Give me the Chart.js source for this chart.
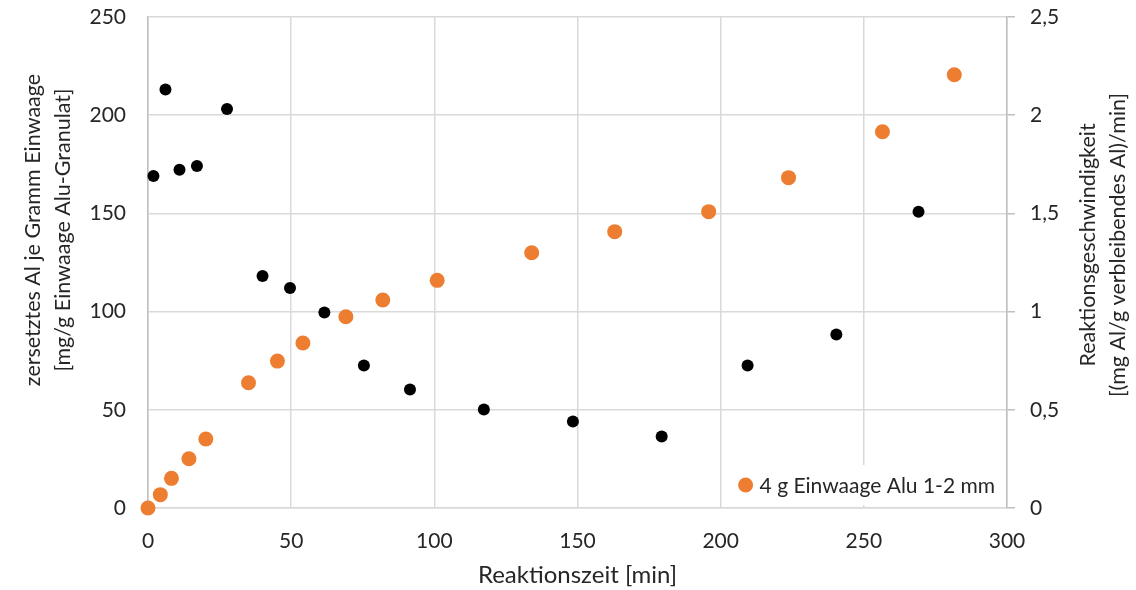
<!DOCTYPE html>
<html>
<head>
<meta charset="utf-8">
<script src="https://cdn.jsdelivr.net/npm/chart.js@4.4.1/dist/chart.umd.min.js"></script>
<style>
  html, body { margin: 0; padding: 0; background: #fff; }
  #grafica { display: block; }
</style>
</head>
<body>
<canvas id="grafica" width="1136" height="590"></canvas>
<script>

// ------------------------------- Umsatz (linke Achse)
const zeitUmsatz = [0, 4.3, 8.2, 14.3, 20.2, 35.1, 45.2, 54.1, 69.1, 82, 101, 134, 163, 195.8, 223.7, 256.5, 281.6];
const umsatz = [0, 6.8, 15.1, 25.1, 35.1, 63.8, 74.8, 84, 97.4, 105.9, 115.9, 130, 140.7, 150.9, 168.2, 191.6, 220.6];

// ------------------------------- Reaktionsgeschwindigkeit (rechte Achse)
const zeitRate = [1.9, 6.1, 11, 17.1, 27.6, 40, 49.6, 61.6, 75.4, 91.5, 117.3, 148.4, 179.4, 209.4, 240.4, 269.1];
const rate = [1.69, 2.131, 1.722, 1.741, 2.032, 1.181, 1.12, 0.996, 0.725, 0.603, 0.501, 0.44, 0.364, 0.725, 0.883, 1.509];

const xTicks = [0, 50, 100, 150, 200, 250, 300];
const yTicks = [0, 50, 100, 150, 200, 250];
const y1Ticks = [0, 0.5, 1, 1.5, 2, 2.5];

const legendLabel = '4 g Einwaage Alu 1-2 mm';
const xTitle = 'Reaktionszeit [min]';
const yTitle = ['zersetztes Al je Gramm Einwaage', '[mg/g Einwaage Alu-Granulat]'];
const y1Title = ['Reaktionsgeschwindigkeit', '[(mg Al/g verbleibendes Al)/min]'];

const colors = ['#ED7D31', '#000000'];

const FONT = 'Lato';
const TEXT = '#262626';

const pairs = (xs, ys) => xs.map((x, i) => ({x: x, y: ys[i]}));

// feste Achsenbreite, ohne Zusatzabstand oben/unten fuer die Beschriftung
const fixWidth = w => s => {
  s.width = w;
  s.paddingTop = 0;
  s.paddingBottom = 0;
};

// Achsentitel links und rechts, beide von unten nach oben lesbar
const axisTitles = {
  id: 'axisTitles',
  afterDraw(chart) {
    const ctx = chart.ctx;
    const lines = (text, x0, cy, step) => {
      text.forEach((t, i) => {
        ctx.save();
        ctx.translate(x0 + i * step, cy);
        ctx.rotate(-Math.PI / 2);
        ctx.fillText(t, 0, 0);
        ctx.restore();
      });
    };
    ctx.save();
    ctx.font = '21.5px ' + FONT;
    ctx.fillStyle = TEXT;
    ctx.textAlign = 'center';
    ctx.textBaseline = 'middle';
    lines(yTitle, 33, 230, 30);
    lines(y1Title, 1088, 245, 30);
    ctx.restore();
  }
};

// Legende unten rechts im Diagrammbereich
const innerLegend = {
  id: 'innerLegend',
  afterDraw(chart) {
    const ctx = chart.ctx;
    const area = chart.chartArea;
    ctx.save();
    ctx.font = '21px ' + FONT;
    const w = ctx.measureText(legendLabel).width + 42;
    const h = 40;
    const left = area.right - 4 - w;
    const top = area.bottom - 3 - h;
    ctx.fillStyle = '#fff';
    ctx.fillRect(left, top, w, h);
    const cy = top + h / 2;
    ctx.fillStyle = colors[0];
    ctx.beginPath();
    ctx.arc(left + 20, cy, 7.5, 0, Math.PI * 2);
    ctx.fill();
    ctx.fillStyle = TEXT;
    ctx.textAlign = 'left';
    ctx.textBaseline = 'middle';
    ctx.fillText(legendLabel, left + 34, cy + 1);
    ctx.restore();
  }
};

const graph = document.querySelector('#grafica');

const data = {
  datasets: [{
    label: legendLabel,
    data: pairs(zeitUmsatz, umsatz),
    yAxisID: 'y',
    backgroundColor: colors[0],
    borderWidth: 0,
    pointRadius: 7.5,
    clip: false
  }, {
    label: 'Reaktionsgeschwindigkeit',
    data: pairs(zeitRate, rate),
    yAxisID: 'y1',
    backgroundColor: colors[1],
    borderWidth: 0,
    pointRadius: 6,
    clip: false
  }]
};

const config = {
  type: 'scatter',
  data: data,
  options: {
    responsive: false,
    animation: false,
    devicePixelRatio: 1,
    layout: { padding: { top: 17, left: 0, right: 0, bottom: 0 } },
    plugins: {
      legend: { display: false },
      tooltip: { enabled: false }
    },
    scales: {
      x: {
        type: 'linear',
        min: 0,
        max: 300,
        afterBuildTicks: s => { s.ticks = xTicks.map(v => ({value: v})); },
        afterFit: s => { s.height = 82; },
        ticks: { padding: 21, color: TEXT, font: { family: FONT, size: 21 } },
        grid: { color: '#d9d9d9', lineWidth: 1.5, drawTicks: false },
        border: { color: '#d9d9d9', width: 1.5 },
        title: {
          display: true,
          text: xTitle,
          color: TEXT,
          font: { family: FONT, size: 24 },
          padding: { top: 0, bottom: 0 }
        }
      },
      y: {
        position: 'left',
        min: 0,
        max: 250,
        afterBuildTicks: s => { s.ticks = yTicks.map(v => ({value: v})); },
        afterFit: fixWidth(148),
        ticks: { padding: 22, color: TEXT, font: { family: FONT, size: 21 } },
        grid: { color: '#d9d9d9', lineWidth: 1.5, drawTicks: false },
        border: { color: '#bfbfbf', width: 1.5 }
      },
      y1: {
        position: 'right',
        min: 0,
        max: 2.5,
        afterBuildTicks: s => { s.ticks = y1Ticks.map(v => ({value: v})); },
        afterFit: fixWidth(129),
        ticks: {
          padding: 15,
          color: TEXT,
          font: { family: FONT, size: 21 },
          callback: v => String(v).replace('.', ',')
        },
        grid: { drawOnChartArea: false, drawTicks: true, tickLength: 8, color: '#bfbfbf', lineWidth: 1.5 },
        border: { color: '#bfbfbf', width: 1.5 }
      }
    }
  },
  plugins: [axisTitles, innerLegend]
};

new Chart(graph, config);

</script>
</body>
</html>
